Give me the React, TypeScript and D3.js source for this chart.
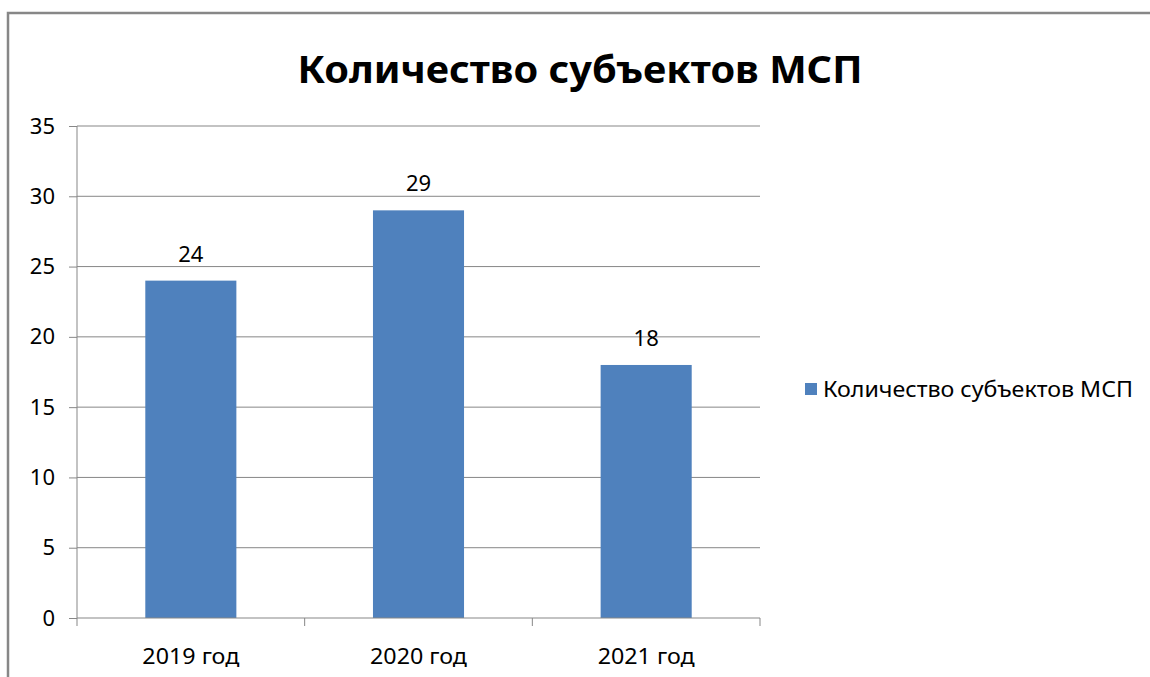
import React, { useRef, useEffect } from 'react';
import * as d3 from 'd3';

const categories = ['2019 год', '2020 год', '2021 год'];
const values = [24, 29, 18];
const yTicks = [0, 5, 10, 15, 20, 25, 30, 35];
const title = 'Количество субъектов МСП';
const seriesName = 'Количество субъектов МСП';

const W = 1150;
const H = 677;
const FONT = "'Noto Sans', 'DejaVu Sans', sans-serif";

const App = () => {
    const svgRef = useRef<SVGSVGElement>(null);

    useEffect(() => {
        const svg = d3.select(svgRef.current);
        svg.selectAll('*').remove();

        const margin = { left: 77, right: 760, top: 126, bottom: 618 };

        const x = d3
            .scaleBand()
            .domain(categories)
            .range([margin.left, margin.right])
            .paddingInner(0.6)
            .paddingOuter(0.3);

        const y = d3.scaleLinear().domain([0, 35]).range([margin.bottom, margin.top]);

        // outer frame
        svg.append('rect')
            .attr('x', 8).attr('y', 13)
            .attr('width', W + 20).attr('height', H + 20)
            .attr('fill', 'white')
            .attr('stroke', '#878787')
            .attr('stroke-width', 2.5);

        svg.append('text')
            .attr('x', 580).attr('y', 83)
            .attr('text-anchor', 'middle')
            .attr('font-family', FONT)
            .attr('font-weight', 'bold')
            .attr('font-size', 37)
            .attr('textLength', 565)
            .attr('lengthAdjust', 'spacingAndGlyphs')
            .text(title);

        // gridlines
        svg.append('g')
            .selectAll('line')
            .data(yTicks.filter(t => t > 0))
            .join('line')
            .attr('x1', margin.left).attr('x2', margin.right)
            .attr('y1', d => y(d)).attr('y2', d => y(d))
            .attr('stroke', '#878787')
            .attr('stroke-width', 1);

        const yAxis = d3.axisLeft(y).tickValues(yTicks).tickSize(8).tickPadding(14);
        const gy = svg.append('g')
            .attr('transform', `translate(${margin.left},0)`)
            .call(yAxis);
        gy.selectAll('line,path').attr('stroke', '#878787');
        gy.select('.domain').attr('d', `M0,${margin.top}V${margin.bottom}`);
        gy.selectAll('text')
            .attr('font-family', FONT)
            .attr('font-size', 22)
            .attr('fill', '#000');

        // bars
        svg.append('g')
            .selectAll('rect')
            .data(values)
            .join('rect')
            .attr('x', (d, i) => x(categories[i])!)
            .attr('y', d => y(d))
            .attr('width', x.bandwidth())
            .attr('height', d => y(0) - y(d))
            .attr('fill', '#4F81BD');

        svg.append('g')
            .selectAll('text')
            .data(values)
            .join('text')
            .attr('x', (d, i) => x(categories[i])! + x.bandwidth() / 2)
            .attr('y', d => y(d) - 19)
            .attr('text-anchor', 'middle')
            .attr('font-family', FONT)
            .attr('font-size', 22)
            .text(d => d);

        // x axis
        const step = (margin.right - margin.left) / categories.length;
        const xAxisG = svg.append('g');
        xAxisG.append('line')
            .attr('x1', margin.left).attr('x2', margin.right)
            .attr('y1', y(0)).attr('y2', y(0))
            .attr('stroke', '#878787');
        xAxisG.selectAll('line.tick')
            .data(d3.range(categories.length + 1))
            .join('line')
            .attr('class', 'tick')
            .attr('x1', i => margin.left + i * step).attr('x2', i => margin.left + i * step)
            .attr('y1', y(0)).attr('y2', y(0) + 8)
            .attr('stroke', '#878787');
        xAxisG.selectAll('text')
            .data(categories)
            .join('text')
            .attr('x', d => x(d)! + x.bandwidth() / 2)
            .attr('y', 664)
            .attr('text-anchor', 'middle')
            .attr('font-family', FONT)
            .attr('font-size', 22)
            .attr('textLength', 97)
            .attr('lengthAdjust', 'spacingAndGlyphs')
            .text(d => d);

        // legend
        svg.append('rect')
            .attr('x', 805).attr('y', 383)
            .attr('width', 12).attr('height', 12)
            .attr('fill', '#4F81BD');
        svg.append('text')
            .attr('x', 823).attr('y', 397)
            .attr('font-family', FONT)
            .attr('font-size', 21)
            .attr('textLength', 310)
            .attr('lengthAdjust', 'spacingAndGlyphs')
            .text(seriesName);
    }, []);

    return (
        <svg
            ref={svgRef}
            width={W}
            height={H}
            style={{ position: 'absolute', left: 0, top: 0, background: '#fff' }}
        />
    );
};

export default App;
